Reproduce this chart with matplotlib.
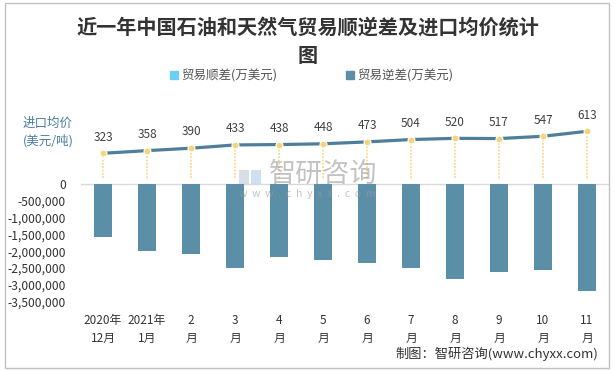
import matplotlib
matplotlib.use("Agg")
import matplotlib.pyplot as plt
import numpy as np
from matplotlib.patches import Rectangle, Patch
from matplotlib.ticker import FuncFormatter

plt.rcParams['font.family'] = ['Noto Sans CJK SC', 'DejaVu Sans']

categories = ["2020年\n12月", "2021年\n1月", "2\n月", "3\n月", "4\n月", "5\n月",
              "6\n月", "7\n月", "8\n月", "9\n月", "10\n月", "11\n月"]
deficit = [-1570000, -1980000, -2070000, -2490000, -2160000, -2250000,
           -2340000, -2490000, -2820000, -2610000, -2550000, -3180000]
surplus = [0] * 12
price = [323, 358, 390, 433, 438, 448, 473, 504, 520, 517, 547, 613]
yticks = [0, -500000, -1000000, -1500000, -2000000, -2500000, -3000000, -3500000]

W, H = 615, 370
fig = plt.figure(figsize=(W / 100, H / 100), dpi=100)

# border
fig.add_artist(Rectangle((5 / W, 1 - 368 / H), 604 / W, 365 / H, transform=fig.transFigure,
                         fill=False, edgecolor='#c0c0c0', lw=1))

ax = fig.add_axes([81 / W, 1 - 301.7 / H, 528 / W, 201.7 / H])
x = np.arange(len(categories))
ax.bar(x, surplus, width=0.41, color='#6dcff6', zorder=2)
ax.bar(x, deficit, width=0.41, color='#5b8fa8', zorder=2)
ax.axhline(0, color='#d9d9d9', lw=1, zorder=1)
ax.set_xlim(-0.5, len(categories) - 0.5)
ax.set_ylim(-3500000, 2500000)
ax.set_yticks(yticks)
ax.yaxis.set_major_formatter(FuncFormatter(lambda v, p: f"{int(v):,}"))
ax.set_xticks(x)
ax.set_xticklabels(categories, linespacing=1.5)
ax.tick_params(axis='y', length=0, pad=11, labelsize=8.7, labelcolor='#333333')
ax.tick_params(axis='x', length=0, pad=9, labelsize=8.5, labelcolor='#333333')
for s in ax.spines.values():
    s.set_visible(False)

ax2 = ax.twinx()
ax2.set_ylim(-1632, 1025)
ax2.vlines(x, 0, price, colors='#f7d47c', linestyles=(0, (1, 1)), lw=1.2, zorder=2)
ax2.plot(x, price, color='#4e7f9a', lw=2.3, zorder=3)
ax2.plot(x, price, ls='none', marker='o', ms=5, mfc='#f7d47c', mec='white', mew=0.8, zorder=4)
for xi, v in zip(x, price):
    ax2.annotate(str(v), (xi, v), xytext=(0, 7), textcoords='offset points',
                 ha='center', va='bottom', fontsize=8.5, color='#404040')
ax2.set_yticks([])
for s in ax2.spines.values():
    s.set_visible(False)

# title
fig.text(308 / W, 1 - 27 / H, "近一年中国石油和天然气贸易顺逆差及进口均价统计", ha='center', va='center',
         fontsize=14.5, fontweight='bold', color='#333333')
fig.text(308 / W, 1 - 55 / H, "图", ha='center', va='center',
         fontsize=14.5, fontweight='bold', color='#333333')

# legend
handles = [Patch(color='#6dcff6', label='贸易顺差(万美元)'), Patch(color='#5b8fa8', label='贸易逆差(万美元)')]
fig.legend(handles=handles, loc='center', bbox_to_anchor=(312 / W, 1 - 76 / H), ncol=2, frameon=False,
           fontsize=9, handlelength=0.6, handleheight=0.6, handletextpad=0.3, columnspacing=5.5,
           labelcolor='#555555')

# secondary axis label
fig.text(48 / W, 1 - 132 / H, "进口均价\n(美元/吨)", ha='center', va='center', fontsize=9,
         color='#4a7fa0', linespacing=1.4)

# watermark
fig.add_artist(Rectangle((239 / W, 1 - 184 / H), 10 / W, 14 / H, transform=fig.transFigure,
                         facecolor='#c5d0de', edgecolor='none', alpha=0.7, zorder=5))
fig.add_artist(Rectangle((251 / W, 1 - 184 / H), 10 / W, 14 / H, transform=fig.transFigure,
                         facecolor='#b7d4ec', edgecolor='none', alpha=0.7, zorder=5))
fig.text(323 / W, 1 - 174 / H, "智研咨询", ha='center', va='center', fontsize=19.5,
         color='#9a9a9a', alpha=0.6, zorder=5)
fig.text(307 / W, 1 - 194 / H, "w  w  w  .  c  h  y  x  x  .  c  o  m", ha='center', va='center',
         fontsize=7.5, color='#9a9a9a', alpha=0.6, zorder=5)

# footer
fig.text(598 / W, 1 - 354 / H, "制图：智研咨询(www.chyxx.com)", ha='right', va='center',
         fontsize=9.5, color='#333333')

fig.savefig("out.png", dpi=100)
